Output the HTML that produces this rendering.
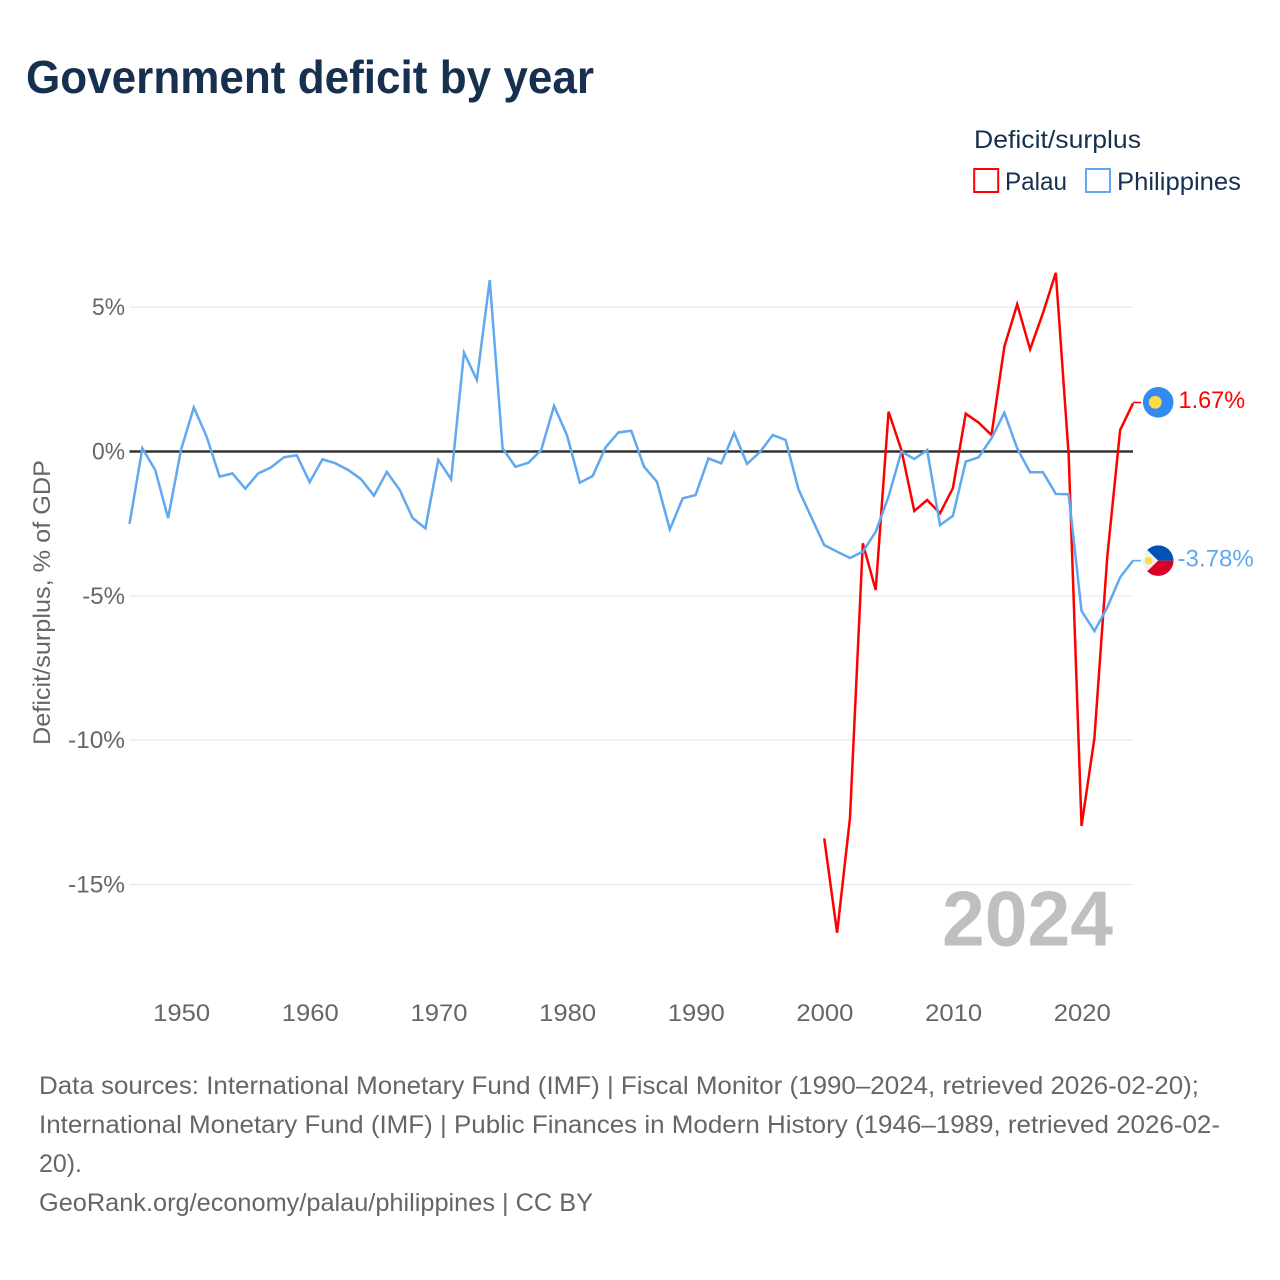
<!DOCTYPE html>
<html lang="en">
<head>
<meta charset="utf-8">
<title>Government deficit by year</title>
<style>
html,body{margin:0;padding:0;background:#fff;}
svg{display:block;font-family:"Liberation Sans",sans-serif;}
</style>
</head>
<body>
<svg id="chart" xmlns="http://www.w3.org/2000/svg" width="1280" height="1280" viewBox="0 0 1280 1280">
  <rect x="0" y="0" width="1280" height="1280" fill="#ffffff"/>
  <text x="26" y="93" font-size="46" font-weight="700" fill="#17304f" textLength="568" lengthAdjust="spacingAndGlyphs">Government deficit by year</text>

  <g>
    <text x="974" y="148" font-size="25" fill="#17304f" textLength="167" lengthAdjust="spacingAndGlyphs">Deficit/surplus</text>
    <rect x="974.2" y="169" width="24" height="23" fill="none" stroke="#ff0000" stroke-width="2"/>
    <text x="1005" y="190" font-size="25" fill="#17304f" textLength="62" lengthAdjust="spacingAndGlyphs">Palau</text>
    <rect x="1086" y="169" width="24" height="23" fill="none" stroke="#60a8f0" stroke-width="2"/>
    <text x="1117" y="190" font-size="25" fill="#17304f" textLength="124" lengthAdjust="spacingAndGlyphs">Philippines</text>
  </g>

  <text transform="translate(50,745) rotate(-90)" x="0" y="0" font-size="24.5" fill="#666666" textLength="285" lengthAdjust="spacingAndGlyphs">Deficit/surplus, % of GDP</text>

  <g id="grid"></g>
  <g id="xticks"></g>
  <g id="yticks"></g>

  <text x="942" y="945.5" font-size="78" font-weight="700" fill="#bfbfbf" textLength="171" lengthAdjust="spacingAndGlyphs">2024</text>

  <g id="series"></g>
  <g id="ends"></g>

  <g font-size="25" fill="#666666">
    <text x="39" y="1094" textLength="1160" lengthAdjust="spacingAndGlyphs">Data sources: International Monetary Fund (IMF) | Fiscal Monitor (1990–2024, retrieved 2026-02-20);</text>
    <text x="39" y="1133" textLength="1181" lengthAdjust="spacingAndGlyphs">International Monetary Fund (IMF) | Public Finances in Modern History (1946–1989, retrieved 2026-02-</text>
    <text x="39" y="1172" textLength="43" lengthAdjust="spacingAndGlyphs">20).</text>
    <text x="39" y="1211" textLength="554" lengthAdjust="spacingAndGlyphs">GeoRank.org/economy/palau/philippines | CC BY</text>
  </g>
</svg>
<script>
const philippinesStartYear = 1946;
const philippinesValues = [
  -2.51, 0.11, -0.64, -2.31, 0.05, 1.53, 0.51, -0.87, -0.76, -1.29,
  -0.76, -0.55, -0.2, -0.13, -1.06, -0.27, -0.41, -0.64, -0.96, -1.53,
  -0.71, -1.33, -2.3, -2.66, -0.29, -0.96, 3.42, 2.48, 5.94, 0.11,
  -0.53, -0.39, 0.05, 1.58, 0.57, -1.08, -0.85, 0.14, 0.66, 0.72,
  -0.53, -1.05, -2.7, -1.62, -1.51, -0.24, -0.41, 0.65, -0.43, -0.02,
  0.57, 0.4, -1.31, -2.28, -3.24, -3.47, -3.69, -3.47, -2.78, -1.56,
  0, -0.26, 0.05, -2.55, -2.23, -0.35, -0.2, 0.46, 1.34, 0.11,
  -0.72, -0.72, -1.47, -1.48, -5.52, -6.22, -5.4, -4.36, -3.78
];
const palauStartYear = 2000;
const palauValues = [
  -13.4, -16.67, -12.7, -3.18, -4.8, 1.38, 0.05, -2.06, -1.68, -2.14,
  -1.27, 1.31, 1.0, 0.57, 3.63, 5.1, 3.54, 4.79, 6.19, -0.12,
  -12.97, -9.93, -3.65, 0.74, 1.67
];
const xTickYears = [1950, 1960, 1970, 1980, 1990, 2000, 2010, 2020];
const yTickValues = [5, 0, -5, -10, -15];

const NS = 'http://www.w3.org/2000/svg';
const X0 = 129.5, X1 = 1133, YEAR0 = 1946, YEAR1 = 2024;
const Y_ZERO = 451.5, Y_UNIT = 28.87;
function xScale(year) { return X0 + (year - YEAR0) * (X1 - X0) / (YEAR1 - YEAR0); }
function yScale(value) { return Y_ZERO - value * Y_UNIT; }
function make(tag, parent) {
  const el = document.createElementNS(NS, tag);
  parent.appendChild(el);
  return el;
}
function labelWidth(str) {
  let w = 0;
  for (const c of str) {
    if (c === '%') w += 18.7;
    else if (c === '-') w += 9.7;
    else if (c === '.') w += 5;
    else w += 14.3;
  }
  return w;
}
function buildPoints(startYear, values) {
  return values.map(function (v, i) {
    return xScale(startYear + i).toFixed(2) + ',' + yScale(v).toFixed(2);
  }).join(' ');
}

const grid = document.getElementById('grid');
const yticks = document.getElementById('yticks');
yTickValues.forEach(function (v) {
  if (v !== 0) {
    const line = make('line', grid);
    
    
    line.setAttribute('x1', X0);
    line.setAttribute('x2', X1);
    line.setAttribute('y1', yScale(v));
    line.setAttribute('y2', yScale(v));
    line.setAttribute('stroke', '#e9e9e9');
    line.setAttribute('stroke-width', '1.3');
  }
  const str = v + '%';
  const w = labelWidth(str);
  const label = make('text', yticks);
  
  
  label.setAttribute('x', 125 - w);
  label.setAttribute('y', yScale(v) + 8);
  label.setAttribute('font-size', '24.5');
  label.setAttribute('fill', '#666666');
  label.setAttribute('textLength', w);
  label.setAttribute('lengthAdjust', 'spacingAndGlyphs');
  label.textContent = str;
});

const zero = make('line', grid);


zero.setAttribute('x1', X0);
zero.setAttribute('x2', X1);
zero.setAttribute('y1', yScale(0));
zero.setAttribute('y2', yScale(0));
zero.setAttribute('stroke', '#333333');
zero.setAttribute('stroke-width', '2.4');

const xticks = document.getElementById('xticks');
xTickYears.forEach(function (year) {
  const label = make('text', xticks);
  
  
  label.setAttribute('x', xScale(year) - 27.8);
  label.setAttribute('y', 1021);
  label.setAttribute('font-size', '24.5');
  label.setAttribute('fill', '#666666');
  label.setAttribute('textLength', '57');
  label.setAttribute('lengthAdjust', 'spacingAndGlyphs');
  label.textContent = String(year);
});

const series = document.getElementById('series');
const palauLine = make('polyline', series);


palauLine.setAttribute('points', buildPoints(palauStartYear, palauValues));
palauLine.setAttribute('fill', 'none');
palauLine.setAttribute('stroke', '#ff0000');
palauLine.setAttribute('stroke-width', '2.5');
palauLine.setAttribute('stroke-linejoin', 'miter');

const philippinesLine = make('polyline', series);


philippinesLine.setAttribute('points', buildPoints(philippinesStartYear, philippinesValues));
philippinesLine.setAttribute('fill', 'none');
philippinesLine.setAttribute('stroke', '#60a8f0');
philippinesLine.setAttribute('stroke-width', '2.5');
philippinesLine.setAttribute('stroke-linejoin', 'miter');

const ends = document.getElementById('ends');
const lastPalau = palauValues[palauValues.length - 1];
const lastPhilippines = philippinesValues[philippinesValues.length - 1];

const palauConnector = make('line', ends);


palauConnector.setAttribute('x1', X1);
palauConnector.setAttribute('x2', X1 + 8);
palauConnector.setAttribute('y1', yScale(lastPalau) - 0.8);
palauConnector.setAttribute('y2', yScale(lastPalau) - 0.8);
palauConnector.setAttribute('stroke', '#ff0000');
palauConnector.setAttribute('stroke-width', '1.6');

const philippinesConnector = make('line', ends);


philippinesConnector.setAttribute('x1', X1);
philippinesConnector.setAttribute('x2', X1 + 8);
philippinesConnector.setAttribute('y1', yScale(lastPhilippines));
philippinesConnector.setAttribute('y2', yScale(lastPhilippines));
philippinesConnector.setAttribute('stroke', '#60a8f0');
philippinesConnector.setAttribute('stroke-width', '1.6');

/* Palau flag */
const palauFlag = make('g', ends);


palauFlag.setAttribute('transform', 'translate(1158.2,' + (yScale(lastPalau) - 1) + ')');
const palauDisc = make('circle', palauFlag);


palauDisc.setAttribute('r', '15.3');
palauDisc.setAttribute('fill', '#338af3');
const palauMoon = make('circle', palauFlag);


palauMoon.setAttribute('cx', '-3');
palauMoon.setAttribute('r', '6.4');
palauMoon.setAttribute('fill', '#ffda44');

/* Philippines flag */
const phFlag = make('g', ends);


phFlag.setAttribute('transform', 'translate(1158.2,' + yScale(lastPhilippines) + ')');
const phDisc = make('circle', phFlag);


phDisc.setAttribute('r', '15.3');
phDisc.setAttribute('fill', '#f0f0f0');
const phTop = make('path', phFlag);


phTop.setAttribute('d', 'M0 0 L-11 -10.6 A15.3 15.3 0 0 1 15.3 0 Z');
phTop.setAttribute('fill', '#0052b4');
const phBottom = make('path', phFlag);


phBottom.setAttribute('d', 'M0 0 L-11 10.6 A15.3 15.3 0 0 0 15.3 0 Z');
phBottom.setAttribute('fill', '#d80027');
const phSun = make('circle', phFlag);


phSun.setAttribute('cx', '-9.5');
phSun.setAttribute('r', '3.8');
phSun.setAttribute('fill', '#ffda44');

const palauText = lastPalau.toFixed(2) + '%';
const palauValueLabel = make('text', ends);


palauValueLabel.setAttribute('x', 1178.5);
palauValueLabel.setAttribute('y', yScale(lastPalau) + 4.7);
palauValueLabel.setAttribute('font-size', '24.5');
palauValueLabel.setAttribute('fill', '#ff0000');
palauValueLabel.setAttribute('textLength', labelWidth(palauText));
palauValueLabel.setAttribute('lengthAdjust', 'spacingAndGlyphs');
palauValueLabel.textContent = palauText;

const philippinesText = lastPhilippines.toFixed(2) + '%';
const philippinesValueLabel = make('text', ends);


philippinesValueLabel.setAttribute('x', 1177.5);
philippinesValueLabel.setAttribute('y', yScale(lastPhilippines) + 5.7);
philippinesValueLabel.setAttribute('font-size', '24.5');
philippinesValueLabel.setAttribute('fill', '#60a8f0');
philippinesValueLabel.setAttribute('textLength', labelWidth(philippinesText));
philippinesValueLabel.setAttribute('lengthAdjust', 'spacingAndGlyphs');
philippinesValueLabel.textContent = philippinesText;
</script>
</body>
</html>
